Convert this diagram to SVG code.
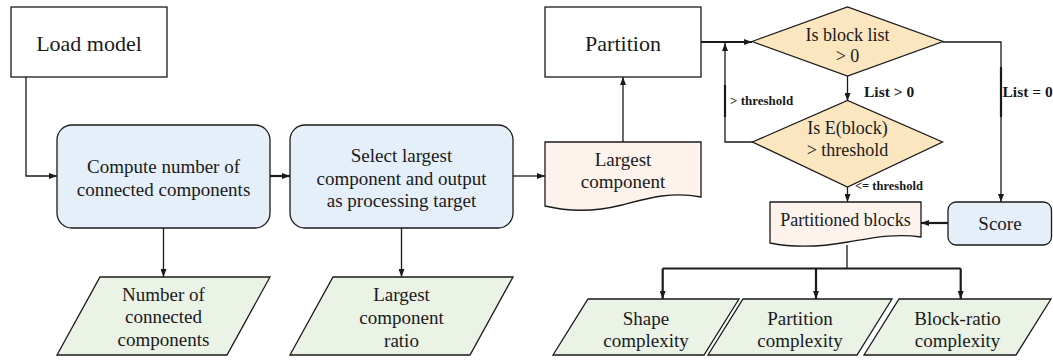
<svg xmlns="http://www.w3.org/2000/svg" width="1053" height="360" viewBox="0 0 1053 360">
<style>
.s{stroke:#1a1a1a;stroke-width:1.3;}
.w{fill:#ffffff;}
.b{fill:#e5eff9;}
.g{fill:#ebf2e6;}
.p{fill:#fdf3ec;}
.y{fill:#fbe6c0;}
text{font-family:"Liberation Serif","Times New Roman",serif;fill:#1a1a1a;text-anchor:middle;}
.t22{font-size:22px;}
.t19{font-size:19px;}
.t18{font-size:18px;}
.lb{font-weight:bold;text-anchor:start;}
.c{fill:none;stroke:#1a1a1a;stroke-width:1.3;}
.k{stroke-width:2.2;}
</style>
<defs>
<marker id="ah" markerUnits="userSpaceOnUse" markerWidth="8" markerHeight="6" refX="8" refY="3" orient="auto">
<path d="M0,0 L8,3 L0,6 Z" fill="#1a1a1a"/>
</marker>
</defs>
<g id="connectors">
<path class="c" d="M26,77 V176 H57" marker-end="url(#ah)"/>
<path class="c k" d="M270,176 H290" marker-end="url(#ah)"/>
<path class="c" d="M513,176 H545" marker-end="url(#ah)"/>
<path class="c" d="M623,142 V77" marker-end="url(#ah)"/>
<path class="c k" d="M701,42 H752" marker-end="url(#ah)"/>
<path class="c" d="M753,142 H725 V43" marker-end="url(#ah)"/>
<path class="c k" d="M725,85 V117"/>
<path class="c" d="M847.5,76 V101" marker-end="url(#ah)"/>
<path class="c" d="M943,42 H1001 V202" marker-end="url(#ah)"/>
<path class="c k" d="M1001,67 V117"/>
<path class="c" d="M847.5,186.5 V202" marker-end="url(#ah)"/>
<path class="c k" d="M948,223 H921" marker-end="url(#ah)"/>
<path class="c" d="M847,245 V268.5"/>
<path class="c k" d="M662.7,268.5 H960.7"/>
<path class="c k" d="M662.7,268.5 V299" marker-end="url(#ah)"/>
<path class="c k" d="M816,268.5 V299" marker-end="url(#ah)"/>
<path class="c k" d="M960.7,268.5 V299" marker-end="url(#ah)"/>
<path class="c" d="M163.5,228 V277" marker-end="url(#ah)"/>
<path class="c" d="M401.5,228 V277" marker-end="url(#ah)"/>
<text class="lb" x="730" y="104.5" font-size="13">&gt; threshold</text>
<text class="lb" x="864" y="96.5" font-size="15.5">List &gt; 0</text>
<text class="lb" x="1002.5" y="96.5" font-size="15.5">List = 0</text>
<text class="lb" x="855" y="189.5" font-size="12.5">&lt;= threshold</text>
</g>
<g id="load-model">
<rect class="s w" x="11" y="7" width="156" height="70"/>
<text class="t22" x="89" y="51">Load model</text>
</g>
<g id="compute">
<rect class="s b" x="57" y="125" width="213" height="103" rx="15"/>
<text class="t19" x="163.5" y="173">Compute number of</text>
<text class="t19" x="163.5" y="195.5">connected components</text>
</g>
<g id="select">
<rect class="s b" x="290" y="125" width="223" height="103" rx="15"/>
<text class="t19" x="401.5" y="162">Select largest</text>
<text class="t19" x="401.5" y="184.5">component and output</text>
<text class="t19" x="401.5" y="207">as processing target</text>
</g>
<g id="largest-component">
<path class="s p" d="M545,142 H701 V197 C670,191 645,199 622,205 C598,211 570,212 545,206 Z"/>
<text class="t19" x="623" y="166">Largest</text>
<text class="t19" x="623" y="188">component</text>
</g>
<g id="partition">
<rect class="s w" x="545" y="7" width="156" height="70"/>
<text class="t22" x="623" y="51">Partition</text>
</g>
<g id="decision-list">
<polygon class="s y" points="752,41.5 847.5,7 943,41.5 847.5,76"/>
<text class="t18" x="847.5" y="41">Is block list</text>
<text class="t18" x="847.5" y="62">&gt; 0</text>
</g>
<g id="decision-threshold">
<polygon class="s y" points="752.5,142 847.5,100.5 942.5,142 847.5,187"/>
<text class="t18" x="847.5" y="134">Is E(block)</text>
<text class="t18" x="847.5" y="156">&gt; threshold</text>
</g>
<g id="partitioned-blocks">
<path class="s p" d="M770,202 H921 V237 C895,233 872,238 848,242 C820,247 795,248 770,243 Z"/>
<text class="t18" x="845.5" y="226">Partitioned blocks</text>
</g>
<g id="score">
<rect class="s b" x="948" y="202" width="103.5" height="43" rx="8"/>
<text class="t19" x="1000" y="230">Score</text>
</g>
<g id="number-components">
<polygon class="s g" points="57,355 100,277 270,277 227,355"/>
<text class="t19" x="163.5" y="300.5">Number of</text>
<text class="t19" x="163.5" y="323">connected</text>
<text class="t19" x="163.5" y="345.5">components</text>
</g>
<g id="largest-ratio">
<polygon class="s g" points="290,355 333,277 513,277 470,355"/>
<text class="t19" x="401.5" y="301">Largest</text>
<text class="t19" x="401.5" y="324">component</text>
<text class="t19" x="401.5" y="346.5">ratio</text>
</g>
<g id="shape-complexity">
<polygon class="s g" points="553,355 588,299 739,299 704,355"/>
<text class="t19" x="646" y="325">Shape</text>
<text class="t19" x="646" y="347">complexity</text>
</g>
<g id="partition-complexity">
<polygon class="s g" points="708,355 743,299 892,299 857,355"/>
<text class="t19" x="800" y="325">Partition</text>
<text class="t19" x="800" y="347">complexity</text>
</g>
<g id="block-ratio-complexity">
<polygon class="s g" points="864,355 899,299 1051,299 1016,355"/>
<text class="t19" x="957.5" y="325">Block-ratio</text>
<text class="t19" x="957.5" y="347">complexity</text>
</g>
</svg>
